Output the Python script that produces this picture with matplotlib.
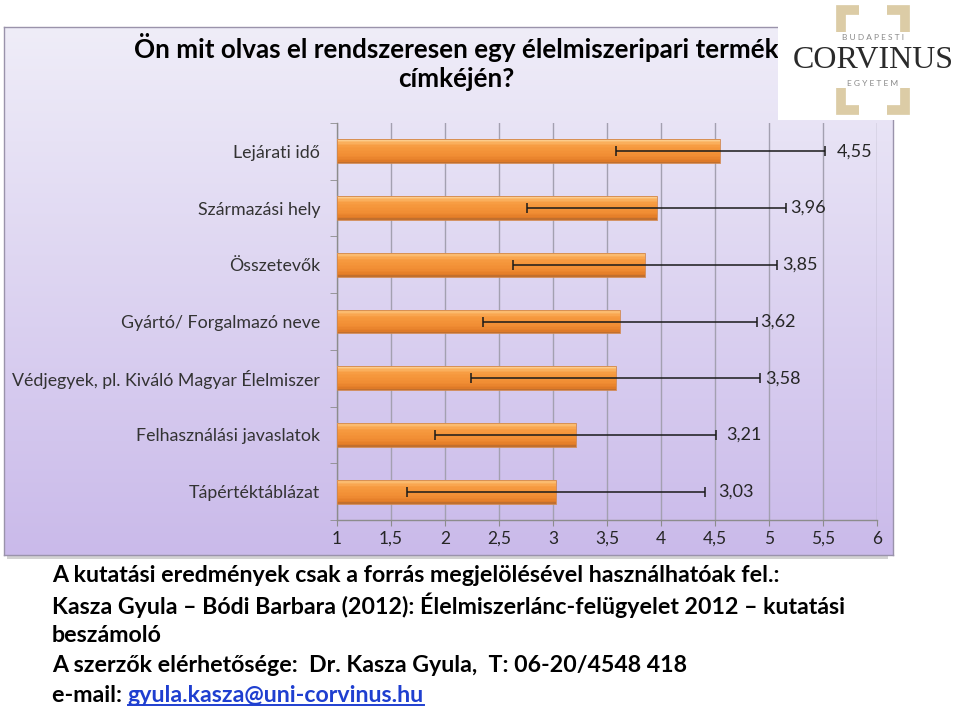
import matplotlib
matplotlib.use("Agg")
import matplotlib.pyplot as plt
import numpy as np
from matplotlib.patches import Rectangle
from matplotlib.lines import Line2D
from matplotlib.colors import LinearSegmentedColormap

plt.rcParams['font.family'] = ['Lato', 'DejaVu Sans']

categories = ["Lejárati idő", "Származási hely", "Összetevők", "Gyártó/ Forgalmazó neve",
              "Védjegyek, pl. Kiváló Magyar Élelmiszer", "Felhasználási javaslatok",
              "Tápértéktáblázat"]
means = [4.55, 3.96, 3.85, 3.62, 3.58, 3.21, 3.03]
errors = [0.97, 1.20, 1.22, 1.27, 1.34, 1.30, 1.38]
value_labels = ["4,55", "3,96", "3,85", "3,62", "3,58", "3,21", "3,03"]
xticks = [1, 1.5, 2, 2.5, 3, 3.5, 4, 4.5, 5, 5.5, 6]
xtick_labels = ["1", "1,5", "2", "2,5", "3", "3,5", "4", "4,5", "5", "5,5", "6"]
title_lines = ["Ön mit olvas el rendszeresen egy élelmiszeripari termék", "címkéjén?"]
footer_lines = ["A kutatási eredmények csak a forrás megjelölésével használhatóak fel.:",
                "Kasza Gyula – Bódi Barbara (2012): Élelmiszerlánc-felügyelet 2012 – kutatási",
                "beszámoló",
                "A szerzők elérhetősége:  Dr. Kasza Gyula,  T: 06-20/4548 418"]
email_prefix = "e-mail: "
email = "gyula.kasza@uni-corvinus.hu"

# label offsets (points) from the error-bar end, as placed in the original
label_offsets = [8.6, 2.9, 4.3, 2.2, 3.6, 7.2, 9.4]

W, H = 960, 711
fig = plt.figure(figsize=(9.6, 7.11), dpi=100)
fig.patch.set_facecolor("white")

def fx(px):
    return px / W
def fy(py):
    return 1 - py / H

# chart box shadow
shadow = Rectangle((fx(7), fy(559)), fx(888) - fx(7), fy(31) - fy(559),
                   transform=fig.transFigure, facecolor="#d2d2d2", edgecolor="none", zorder=0)
fig.add_artist(shadow)
# gradient background
bg = fig.add_axes([fx(4), fy(555), fx(893) - fx(4), fy(27) - fy(555)], zorder=1)
grad = np.linspace(0, 1, 256).reshape(-1, 1)
top = np.array([239, 237, 248]) / 255
bot = np.array([202, 186, 234]) / 255
img = top[None, None, :] * (1 - grad[:, :, None]) + bot[None, None, :] * grad[:, :, None]
bg.imshow(img, aspect="auto", extent=[0, 1, 0, 1], origin="upper")
bg.set_xlim(0, 1); bg.set_ylim(0, 1)
bg.set_xticks([]); bg.set_yticks([])
for s in bg.spines.values():
    s.set_color("#9a93ab"); s.set_linewidth(1.0)

# titles
fig.text(fx(456), fy(47), title_lines[0], ha="center", va="center", fontsize=18.7,
         fontweight="bold", color="black", zorder=5)
fig.text(fx(456), fy(79), title_lines[1], ha="center", va="center", fontsize=18.7,
         fontweight="bold", color="black", zorder=5)

# main axes
ax = fig.add_axes([fx(337), fy(520), fx(877) - fx(337), fy(123) - fy(520)], zorder=3)
ax.patch.set_alpha(0)
y = np.arange(len(categories))
base = 1
m = np.array(means)
e = np.array(errors)
bh = 0.42

# bar with vertical gradient, drawn as thin slices
bar_cmap = LinearSegmentedColormap.from_list(
    "bar", [(0.0, "#FDD49A"), (0.12, "#FBB463"), (0.3, "#F79B40"), (0.7, "#F08C33"),
            (0.9, "#E27C27"), (1.0, "#B56A30")])
nsl = 16
for k in range(nsl):
    frac = (k + 0.5) / nsl
    ax.barh(y - bh / 2 + frac * bh, m - base, left=base, height=bh / nsl * 1.05,
            color=bar_cmap(frac), edgecolor="none", zorder=3)
ax.barh(y, m - base, left=base, height=bh, color="none", edgecolor="#D2864A",
        linewidth=0.6, zorder=4)

ax.errorbar(m, y, xerr=e, fmt="none", ecolor="#1a1a1a", elinewidth=1.1, capsize=3.5,
            capthick=1.1, zorder=5)
for yi, mi, ei, lab, off in zip(y, m, e, value_labels, label_offsets):
    ax.annotate(lab, (mi + ei, yi), xytext=(off, 0), textcoords="offset points",
                ha="left", va="center", fontsize=13, color="#262626", zorder=6)

ax.set_xlim(1, 6)
ax.set_ylim(len(categories) - 0.5, -0.5)
ax.set_xticks(xticks)
ax.set_xticklabels(xtick_labels, fontsize=12.5, color="#262626")
ax.set_yticks(y)
ax.set_yticklabels(categories, fontsize=12.8, color="#333333")
ax.set_yticks(np.arange(len(categories) + 1) - 0.5, minor=True)
ax.tick_params(axis="y", which="major", length=0, pad=12)
ax.tick_params(axis="y", which="minor", length=5, color="#8c8c8c")
ax.tick_params(axis="x", which="major", length=4, color="#8c8c8c", pad=4)
ax.grid(axis="x", color="#a3a0b0", linewidth=1.0, zorder=0)
ax.set_axisbelow(True)
for s in ["top", "right"]:
    ax.spines[s].set_visible(False)
for s in ["left", "bottom"]:
    ax.spines[s].set_color("#8c8c8c")
    ax.spines[s].set_linewidth(1.0)

# logo
logo = Rectangle((fx(778), fy(120)), fx(960) - fx(778), fy(0) - fy(120),
                 transform=fig.transFigure, facecolor="white", edgecolor="none", zorder=6)
fig.add_artist(logo)
tan = "#dccca6"
for (x0, y0, dx, dy) in [(841, 10, 1, 1), (905, 10, -1, 1), (841, 110, 1, -1), (905, 110, -1, -1)]:
    xs = [fx(x0 + dx * 18), fx(x0), fx(x0)]
    ys = [fy(y0), fy(y0), fy(y0 + dy * 22)]
    fig.add_artist(Line2D(xs, ys, transform=fig.transFigure, color=tan, linewidth=7,
                          solid_capstyle="butt", solid_joinstyle="miter", zorder=7))
fig.text(fx(873), fy(38), "B U D A P E S T I", ha="center", va="center", fontsize=6,
         color="#8a8a8a", zorder=8)
fig.text(fx(873), fy(61), "CORVINUS", ha="center", va="center", fontsize=23,
         family=["Liberation Serif", "DejaVu Serif"], color="#2a2a2a", zorder=8)
fig.text(fx(873), fy(84), "E G Y E T E M", ha="center", va="center", fontsize=6,
         color="#8a8a8a", zorder=8)

# footer
fs = 16.7
ys_px = [575, 605, 636, 665]
for line, yp in zip(footer_lines, ys_px):
    fig.text(fx(52), fy(yp), line, ha="left", va="center", fontsize=fs,
             fontweight="bold", color="black", zorder=5)
t_pre = fig.text(fx(52), fy(695), email_prefix, ha="left", va="center", fontsize=fs,
                 fontweight="bold", color="black", zorder=5)
fig.canvas.draw()
r = fig.canvas.get_renderer()
bb = t_pre.get_window_extent(r)
t_mail = fig.text(bb.x1 / W, fy(695), email, ha="left", va="center", fontsize=fs,
                  fontweight="bold", color="#1f3fd0", zorder=5)
bb2 = t_mail.get_window_extent(r)
fig.add_artist(Line2D([bb2.x0 / W, bb2.x1 / W], [(bb2.y0 + 1) / H, (bb2.y0 + 1) / H],
                      transform=fig.transFigure, color="#1f3fd0", linewidth=1.4, zorder=5))

fig.savefig("out.png", dpi=100)
